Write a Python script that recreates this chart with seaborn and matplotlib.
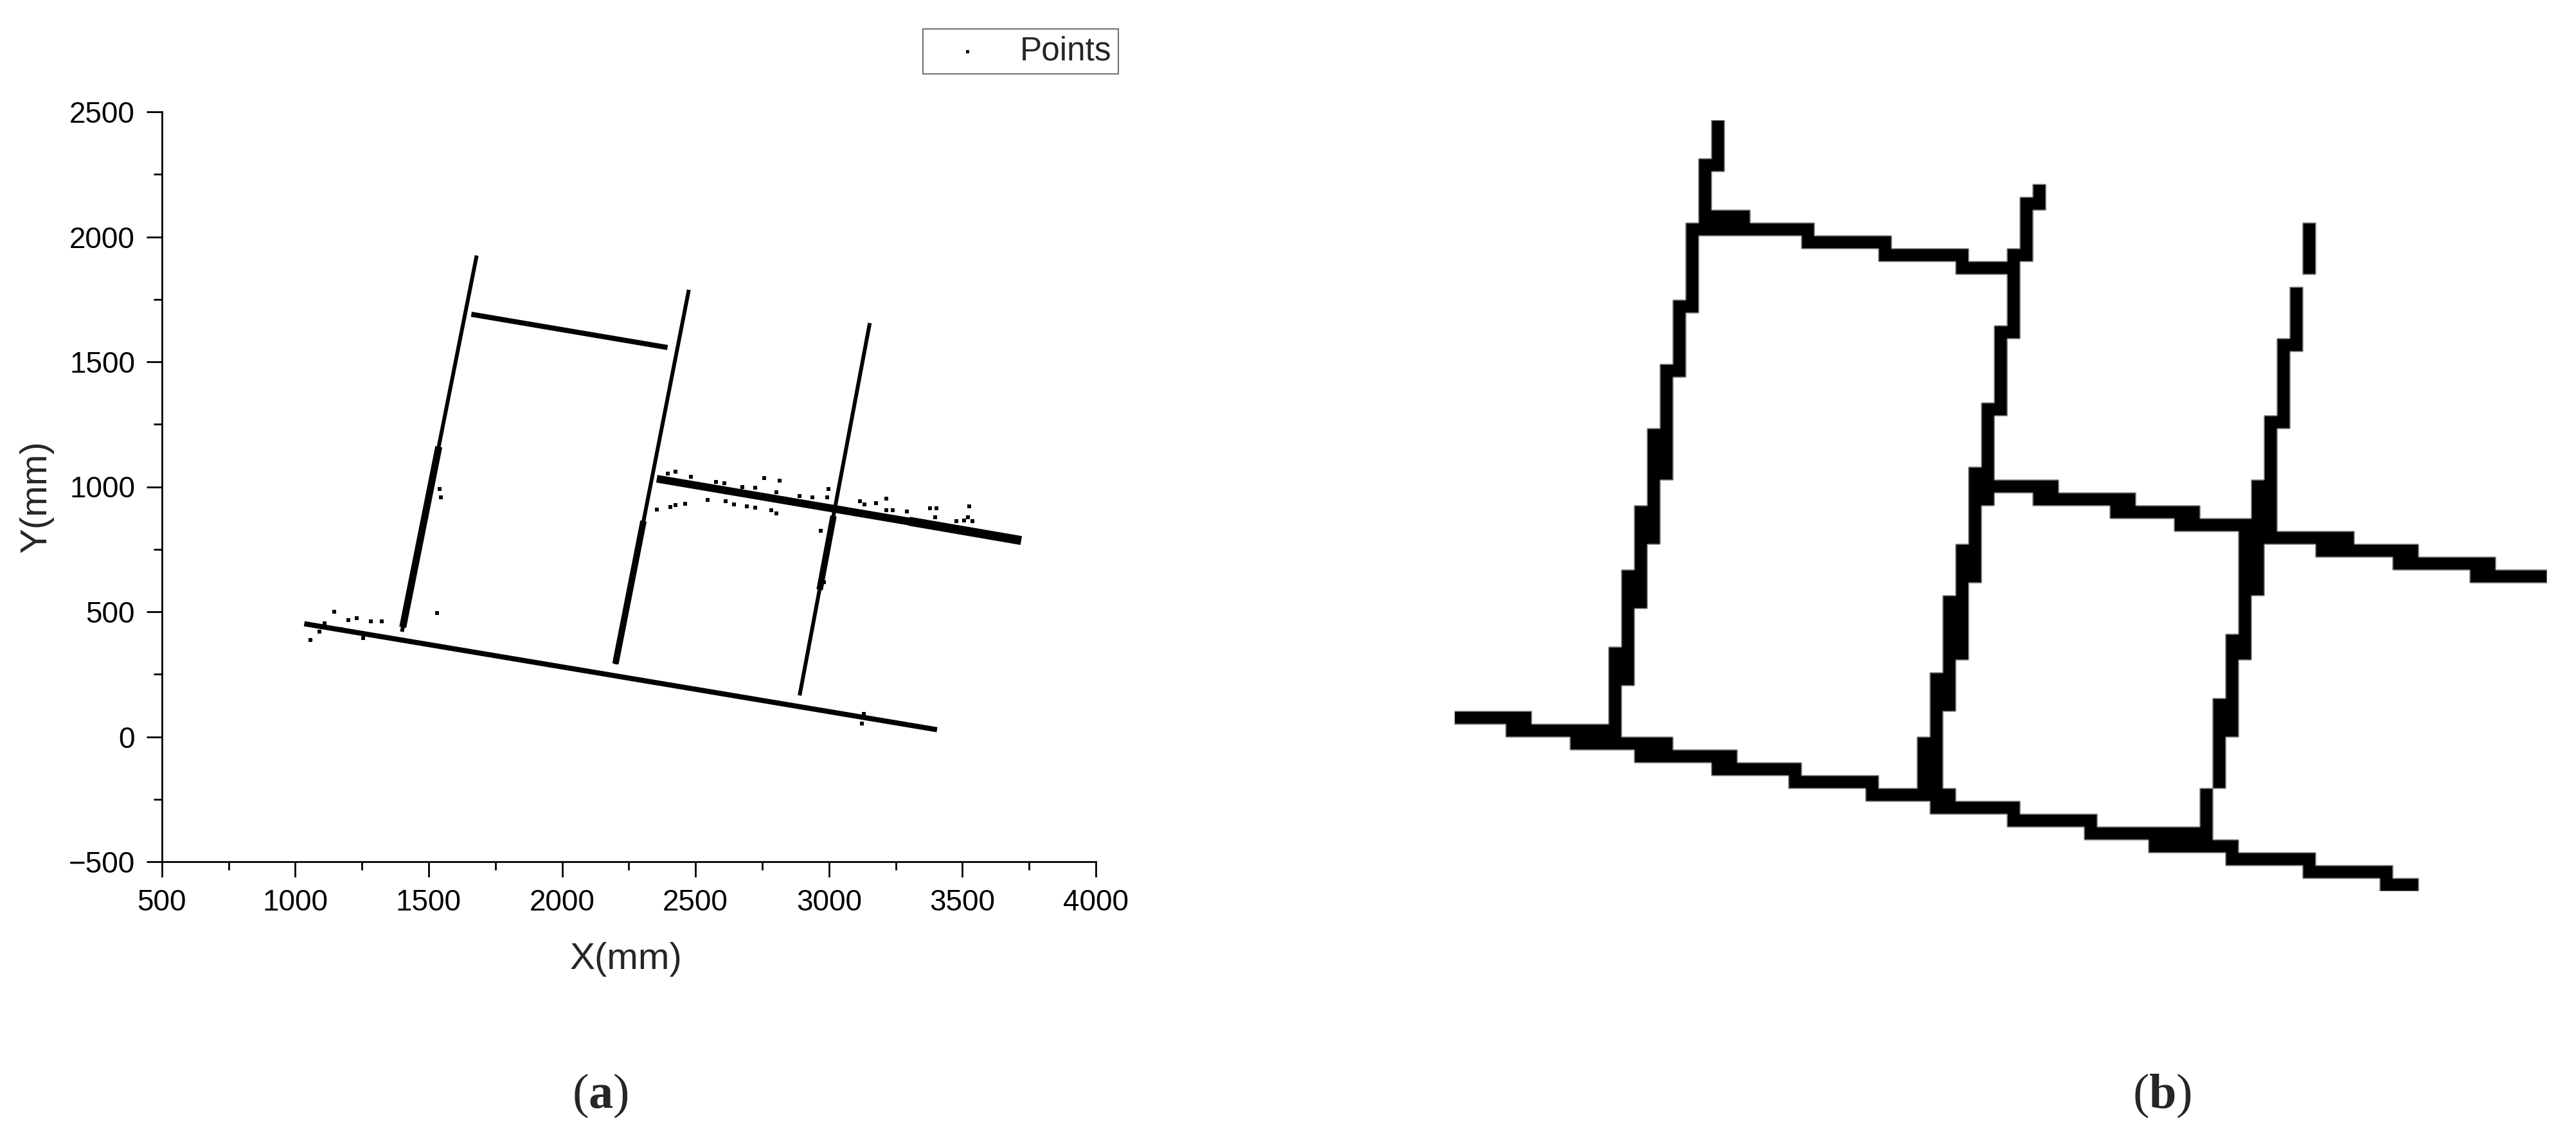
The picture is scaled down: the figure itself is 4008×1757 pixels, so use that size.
import numpy as np
import pandas as pd
import matplotlib
matplotlib.use("Agg")
import matplotlib.pyplot as plt
import seaborn as sns
from matplotlib.colors import ListedColormap
from matplotlib.ticker import MultipleLocator
from matplotlib.collections import LineCollection

# ---------------- (a) point-cloud data (mm) ----------------
seg_names = ["F", "A", "B", "C", "D", "E"]
seg_x0 = [1034, 1400, 1660, 2200, 2355, 2890]
seg_y0 = [452, 420, 1690, 290, 1032, 165]
seg_x1 = [3405, 1680, 2395, 2475, 3720, 3153]
seg_y1 = [28, 1925, 1557, 1788, 785, 1655]
seg_width_px = [8, 6, 8, 6, 12, 6]

# denser (thicker) stretches of the walls
thick_x0 = [1403, 2200, 2965, 3300]
thick_y0 = [438, 292, 588, 862]
thick_x1 = [1538, 2305, 3017, 3720]
thick_y1 = [1160, 863, 883, 785]
thick_width_px = [11, 10, 10, 14]

# scattered outlier points
out_x = [1056, 1145, 1200, 1283, 1325, 1090, 1255, 1170, 1110, 1230,
         1532, 1546, 1540,
         2397, 2424, 2482, 2577, 2607, 2675, 2724, 2757, 2815, 2803, 2889,
         2938, 2997, 3116, 3134, 3177, 3214, 3293, 3379, 3403, 3526,
         2356, 2405, 2424, 2460, 2546, 2613, 2644, 2693, 2724, 2785, 2803,
         3214, 3238, 3397, 3477, 3507, 3538, 3520,
         2981, 2969, 2993, 3124, 3131]
out_y = [386, 501, 467, 461, 461, 420, 394, 430, 455, 475,
         495, 957, 990,
         1052, 1060, 1040, 1019, 1013, 999, 996, 1035, 1025, 979, 963,
         957, 991, 942, 930, 935, 952, 900, 914, 914, 922,
         910, 920, 927, 932, 947, 942, 930, 922, 917, 907, 893,
         907, 907, 878, 863, 865, 863, 878,
         617, 824, 957, 52, 91]

x_ticks = [500, 1000, 1500, 2000, 2500, 3000, 3500, 4000]
y_ticks = [-500, 0, 500, 1000, 1500, 2000, 2500]

# ---------------- (b) occupancy grid (85 cols x 60 rows) ----------------
grid_cols, grid_rows = 85, 60
# horizontal runs: (row, first col, last col)
h_runs = [
    # top wall
    (7, 20, 22), (8, 19, 27), (9, 27, 33), (10, 33, 39), (11, 39, 42),
    # middle wall
    (28, 42, 46), (29, 45, 52), (30, 51, 57), (31, 56, 61), (32, 61, 69),
    (33, 67, 74), (34, 73, 80), (35, 79, 84),
    # bottom wall
    (46, 0, 5), (47, 4, 11), (48, 9, 16), (49, 14, 21), (50, 20, 26),
    (51, 26, 32), (52, 32, 38), (53, 37, 43), (54, 43, 49), (55, 49, 57),
    (56, 54, 60), (57, 60, 66), (58, 66, 72), (59, 72, 74),
]
# vertical runs: (col, first row, last row)
v_runs = [
    # left wall
    (20, 0, 3), (19, 3, 8), (18, 8, 14), (17, 14, 19), (16, 19, 27),
    (15, 24, 32), (14, 30, 37), (13, 35, 43), (12, 41, 47),
    # middle wall
    (45, 5, 6), (44, 6, 10), (43, 10, 16), (42, 16, 22), (41, 22, 29),
    (40, 27, 35), (39, 33, 41), (38, 37, 45), (37, 43, 51), (36, 48, 51),
    # right wall
    (66, 8, 11), (65, 13, 17), (64, 17, 23), (63, 23, 31), (62, 28, 36),
    (61, 32, 41), (60, 40, 47), (59, 45, 51), (58, 52, 55),
]

# ---------------- style ----------------
sns.set_theme(style="ticks")
plt.rcParams["font.family"] = ["Liberation Sans", "DejaVu Sans"]
plt.rcParams["mathtext.fontset"] = "custom"
plt.rcParams["mathtext.rm"] = "Liberation Serif"
plt.rcParams["mathtext.bf"] = "Liberation Serif:bold"

W, H = 4008, 1757
PX = 0.72  # points per pixel at dpi 100
fig = plt.figure(figsize=(W / 100, H / 100), dpi=100)
fig.patch.set_facecolor("white")

# ---------------- panel (a) ----------------
L, R, T, B = 251.7, 1705, 174, 1341
ax1 = fig.add_axes([L / W, 1 - B / H, (R - L) / W, (B - T) / H])
ax1.set_facecolor("white")

for i, name in enumerate(seg_names):
    d = pd.DataFrame({"x": [seg_x0[i], seg_x1[i]], "y": [seg_y0[i], seg_y1[i]]})
    sns.lineplot(data=d, x="x", y="y", color="black", linewidth=seg_width_px[i] * PX,
                 sort=False, estimator=None, ax=ax1, legend=False,
                 solid_capstyle="butt")
for i in range(len(thick_x0)):
    d = pd.DataFrame({"x": [thick_x0[i], thick_x1[i]], "y": [thick_y0[i], thick_y1[i]]})
    sns.lineplot(data=d, x="x", y="y", color="black", linewidth=thick_width_px[i] * PX,
                 sort=False, estimator=None, ax=ax1, legend=False,
                 solid_capstyle="butt")

sns.scatterplot(x=out_x, y=out_y, marker="s", s=16, color="black", linewidth=0,
                label="Points", ax=ax1)

ax1.set_xlim(500, 4000)
ax1.set_ylim(-500, 2500)
ax1.set_xticks(x_ticks)
ax1.set_yticks(y_ticks)
ax1.xaxis.set_minor_locator(MultipleLocator(250))
ax1.yaxis.set_minor_locator(MultipleLocator(250))
sns.despine(ax=ax1)
for s in ["left", "bottom"]:
    ax1.spines[s].set_linewidth(2.0)
    ax1.spines[s].set_color("black")
ax1.tick_params(axis="both", which="major", direction="out", length=17, width=2.0,
                labelsize=33, pad=13, colors="black")
ax1.tick_params(axis="both", which="minor", direction="out", length=9.4, width=2.0,
                colors="black")

ax1.set_xlabel("X(mm)", fontsize=42, va="center")
ax1.xaxis.set_label_coords(974 / W, 1 - 1493 / H, transform=fig.transFigure)
ax1.set_ylabel("Y(mm)", fontsize=42, va="center")
ax1.yaxis.set_label_coords(57 / W, 1 - 773 / H, transform=fig.transFigure)

leg = ax1.legend(loc="upper right", bbox_to_anchor=(1740 / W, 1 - 45 / H),
                 bbox_transform=fig.transFigure, borderaxespad=0, frameon=True,
                 fancybox=False, fontsize=37, borderpad=0.2, handlelength=2.3,
                 handletextpad=0.45, markerscale=0.9)
leg.get_frame().set_edgecolor("#555555")
leg.get_frame().set_linewidth(1.6)

# ---------------- panel (b) ----------------
grid = np.zeros((grid_rows, grid_cols))
for r, c0, c1 in h_runs:
    grid[r, c0:c1 + 1] = 1
for c, r0, r1 in v_runs:
    grid[r0:r1 + 1, c] = 1

GX0, GY0, CELL = 2263, 187, 20
ax2 = fig.add_axes([GX0 / W, 1 - (GY0 + grid_rows * CELL) / H,
                    grid_cols * CELL / W, grid_rows * CELL / H])
sns.heatmap(grid, cmap=ListedColormap(["white", "black"]), vmin=0, vmax=1,
            cbar=False, xticklabels=False, yticklabels=False, ax=ax2)
ax2.set_xlabel("")
ax2.set_ylabel("")

# thin grey outline round the occupied cells
padded = np.pad(grid, 1)
segs = []
dv = np.diff(padded, axis=0)[:, 1:-1]  # boundaries between rows
for r, c in zip(*np.nonzero(dv)):
    segs.append([(c, r), (c + 1, r)])
dh = np.diff(padded, axis=1)[1:-1, :]
for r, c in zip(*np.nonzero(dh)):
    segs.append([(c, r), (c, r + 1)])
ax2.add_collection(LineCollection(segs, colors="#808080", linewidths=1.2))

# ---------------- captions ----------------
fig.text(934 / W, 1 - 1705 / H, r"$\mathrm{(}\mathbf{a}\mathrm{)}$", fontsize=55,
         ha="center", va="center")
fig.text(3364 / W, 1 - 1705 / H, r"$\mathrm{(}\mathbf{b}\mathrm{)}$", fontsize=55,
         ha="center", va="center")

fig.savefig("out.png", dpi=100, facecolor="white")
